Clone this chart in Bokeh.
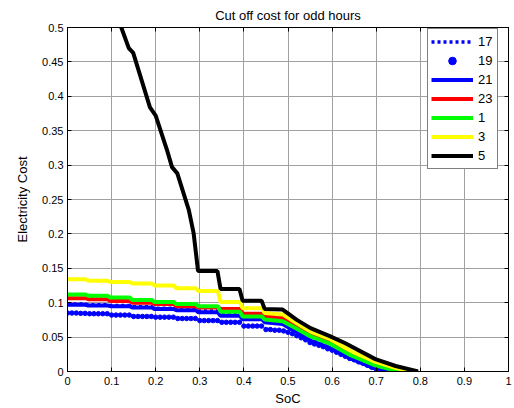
from bokeh.plotting import figure
from bokeh.models import Range1d, FixedTicker, LinearAxis, Legend, LegendItem
from bokeh.embed import file_html
from bokeh.resources import INLINE

# ---------------- data ----------------
x_ticks = [0, 0.1, 0.2, 0.3, 0.4, 0.5, 0.6, 0.7, 0.8, 0.9, 1]
x_tick_labels = ["0", "0.1", "0.2", "0.3", "0.4", "0.5", "0.6", "0.7", "0.8", "0.9", "1"]
y_ticks = [0, 0.05, 0.1, 0.15, 0.2, 0.25, 0.3, 0.35, 0.4, 0.45, 0.5]
y_tick_labels = ["0", "0.05", "0.1", "0.15", "0.2", "0.25", "0.3", "0.35", "0.4", "0.45", "0.5"]

# common SoC vertices of the staircase part + the falling tail
soc_steps = [0.0, 0.041, 0.047, 0.091, 0.097, 0.141, 0.147, 0.191, 0.197, 0.241,
             0.247, 0.291, 0.297, 0.341, 0.347, 0.391, 0.397, 0.441, 0.447, 0.488]

soc_17 = soc_steps + [0.52, 0.551, 0.596, 0.642, 0.698, 0.750]
cost_17 = [0.098, 0.098, 0.097, 0.097, 0.096, 0.096, 0.094, 0.094, 0.092, 0.092,
           0.090, 0.090, 0.088, 0.088, 0.086, 0.086, 0.080, 0.080, 0.075, 0.071,
           0.058, 0.046, 0.035, 0.020, 0.005, 0.0]

soc_19 = [0.00, 0.01, 0.02, 0.03, 0.04, 0.05, 0.06, 0.07, 0.08, 0.09,
          0.10, 0.11, 0.12, 0.13, 0.14, 0.15, 0.16, 0.17, 0.18, 0.19,
          0.20, 0.21, 0.22, 0.23, 0.24, 0.25, 0.26, 0.27, 0.28, 0.29,
          0.30, 0.31, 0.32, 0.33, 0.34, 0.35, 0.36, 0.37, 0.38, 0.39,
          0.40, 0.41, 0.42, 0.43, 0.44, 0.45, 0.46, 0.47, 0.48, 0.49,
          0.50, 0.51, 0.52, 0.53, 0.54, 0.55, 0.56, 0.57, 0.58, 0.59,
          0.60, 0.61, 0.62, 0.63, 0.64, 0.65, 0.66, 0.67, 0.68, 0.69,
          0.70, 0.71, 0.72, 0.73, 0.74, 0.75]
cost_19 = [0.085, 0.085, 0.085, 0.0845, 0.0845, 0.084, 0.084, 0.084, 0.084, 0.084,
           0.082, 0.082, 0.082, 0.082, 0.082, 0.080, 0.080, 0.080, 0.080, 0.080,
           0.079, 0.079, 0.079, 0.079, 0.079, 0.077, 0.077, 0.077, 0.077, 0.077,
           0.074, 0.074, 0.074, 0.074, 0.074, 0.0715, 0.0715, 0.0715, 0.0715, 0.0715,
           0.066, 0.066, 0.066, 0.066, 0.066, 0.061, 0.061, 0.060, 0.060, 0.059,
           0.057, 0.055, 0.052, 0.049, 0.046, 0.042, 0.040, 0.038, 0.036, 0.033,
           0.031, 0.028, 0.025, 0.022, 0.019, 0.017, 0.014, 0.012, 0.009, 0.006,
           0.004, 0.003, 0.002, 0.001, 0.0005, 0.0]

soc_21 = soc_steps + [0.52, 0.551, 0.596, 0.642, 0.698, 0.745]
cost_21 = [0.097, 0.097, 0.096, 0.096, 0.095, 0.095, 0.093, 0.093, 0.091, 0.091,
           0.089, 0.089, 0.086, 0.086, 0.081, 0.081, 0.076, 0.076, 0.0716, 0.069,
           0.057, 0.045, 0.034, 0.019, 0.004, 0.0]

soc_23 = soc_steps + [0.52, 0.551, 0.596, 0.642, 0.698, 0.745, 0.785]
cost_23 = [0.1065, 0.1065, 0.105, 0.105, 0.1025, 0.1025, 0.100, 0.100, 0.098, 0.098,
           0.095, 0.095, 0.093, 0.093, 0.091, 0.091, 0.084, 0.084, 0.080, 0.078,
           0.066, 0.055, 0.044, 0.027, 0.012, 0.004, 0.0]

soc_1 = soc_steps + [0.52, 0.551, 0.596, 0.642, 0.698, 0.740, 0.765]
cost_1 = [0.112, 0.112, 0.110, 0.110, 0.1075, 0.1075, 0.104, 0.104, 0.101, 0.101,
          0.098, 0.098, 0.095, 0.095, 0.087, 0.087, 0.080, 0.080, 0.0755, 0.073,
          0.062, 0.051, 0.040, 0.0236, 0.009, 0.002, 0.0]

soc_3 = soc_steps + [0.52, 0.551, 0.596, 0.642, 0.698, 0.745, 0.782]
cost_3 = [0.134, 0.134, 0.132, 0.132, 0.130, 0.130, 0.128, 0.128, 0.125, 0.125,
          0.121, 0.121, 0.117, 0.117, 0.101, 0.101, 0.092, 0.092, 0.085, 0.083,
          0.070, 0.058, 0.047, 0.030, 0.014, 0.005, 0.0]

soc_5 = [0.108, 0.122, 0.139, 0.149, 0.187, 0.200, 0.226, 0.237, 0.249, 0.275,
         0.286, 0.296, 0.340, 0.347, 0.390, 0.397, 0.440, 0.447, 0.488, 0.520,
         0.551, 0.596, 0.630, 0.698, 0.744, 0.795]
cost_5 = [0.55, 0.50, 0.470, 0.463, 0.384, 0.372, 0.321, 0.297, 0.288, 0.235,
          0.201, 0.146, 0.146, 0.120, 0.120, 0.103, 0.103, 0.091, 0.090, 0.075,
          0.063, 0.051, 0.041, 0.018, 0.008, 0.0]

hours = ["17", "19", "21", "23", "1", "3", "5"]

# ---------------- figure ----------------
FONT = "Liberation Sans"
p = figure(width=514, height=408, output_backend="svg", toolbar_location=None,
           x_range=Range1d(0, 1), y_range=Range1d(0, 0.5),
           min_border_left=67, min_border_right=6, min_border_top=26, min_border_bottom=35)

p.title.text = "Cut off cost for odd hours"
p.title.align = "center"
p.title.text_font = FONT
p.title.text_font_size = "13px"
p.title.text_font_style = "normal"
p.title.text_color = "black"
p.title.standoff = 10

p.outline_line_color = "black"
p.outline_line_width = 1
p.background_fill_color = "white"
p.border_fill_color = "white"

xt = FixedTicker(ticks=x_ticks)
yt = FixedTicker(ticks=y_ticks)

xb = p.below[0]
yl = p.left[0]
xb.ticker = xt
xb.major_label_overrides = {t: l for t, l in zip(x_ticks, x_tick_labels)}
xb.axis_label = "SoC"
yl.ticker = yt
yl.major_label_overrides = {t: l for t, l in zip(y_ticks, y_tick_labels)}
yl.axis_label = "Electricity Cost"

top_ax = LinearAxis(ticker=xt, major_label_overrides={t: "" for t in x_ticks},
                    major_label_text_font_size="1px", major_label_standoff=0)
right_ax = LinearAxis(ticker=yt, major_label_overrides={t: "" for t in y_ticks},
                      major_label_text_font_size="1px", major_label_standoff=0)
p.add_layout(top_ax, "above")
p.add_layout(right_ax, "right")

for ax in [xb, yl, top_ax, right_ax]:
    ax.major_tick_in = 4
    ax.major_tick_out = 0
    ax.minor_tick_line_color = None
    ax.axis_line_color = "black"
    ax.major_tick_line_color = "black"
    ax.major_label_text_color = "black"

for ax in [xb, yl]:
    ax.major_label_text_font = FONT
    ax.major_label_text_font_size = "11px"
    ax.axis_label_text_font = FONT
    ax.axis_label_text_font_size = "13px"
    ax.axis_label_text_font_style = "normal"
    ax.axis_label_text_color = "black"

xb.major_label_standoff = 5
xb.axis_label_standoff = 3
yl.major_label_standoff = 4
yl.axis_label_standoff = 9

p.xgrid.ticker = xt
p.ygrid.ticker = yt
for g in [p.xgrid[0], p.ygrid[0]]:
    g.grid_line_color = "#a0a0a0"
    g.grid_line_width = 1

# ---------------- series ----------------
r17 = p.line(soc_17, cost_17, line_color="#0000ff", line_width=3.5, line_dash="3 3")
r19 = p.scatter(soc_19, cost_19, marker="circle", size=4.5, fill_color="#0000ff", line_color="#0000ff")
r21 = p.line(soc_21, cost_21, line_color="#0000ff", line_width=4)
r23 = p.line(soc_23, cost_23, line_color="#ff0000", line_width=4)
r1 = p.line(soc_1, cost_1, line_color="#00ff00", line_width=4)
r3 = p.line(soc_3, cost_3, line_color="#ffff00", line_width=4)
r5 = p.line(soc_5, cost_5, line_color="#000000", line_width=4)

renderers = [r17, r19, r21, r23, r1, r3, r5]
legend = Legend(items=[LegendItem(label=h, renderers=[r]) for h, r in zip(hours, renderers)],
                location=(360, 202))
legend.label_text_font = FONT
legend.label_text_font_size = "13px"
legend.label_text_color = "black"
legend.border_line_color = "black"
legend.border_line_width = 1
legend.padding = 3
legend.spacing = 0
legend.glyph_width = 42
legend.glyph_height = 19
legend.label_height = 19
legend.label_width = 16
legend.label_standoff = 5
legend.margin = 0
legend.background_fill_alpha = 1
p.add_layout(legend, "center")

open("out.html", "w").write(file_html(p, INLINE))
